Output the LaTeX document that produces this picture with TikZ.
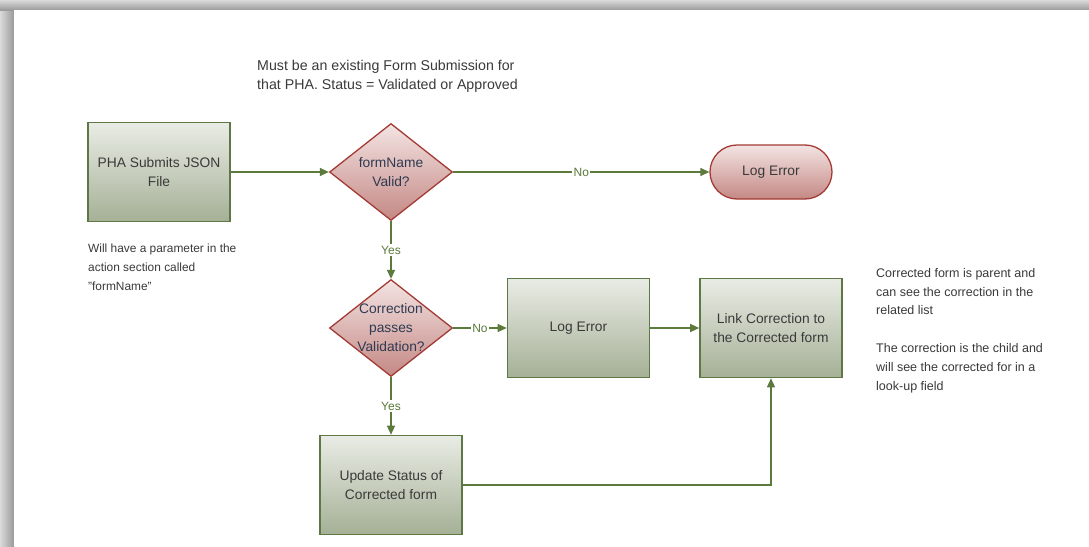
\documentclass[tikz,border=0pt]{standalone}
\usepackage{fontspec}
\setmainfont{Liberation Sans}
\usetikzlibrary{shapes.geometric,arrows.meta,shadings}
\definecolor{boxtop}{HTML}{E9ECE5}
\definecolor{boxbot}{HTML}{A5B096}
\definecolor{boxline}{HTML}{5E7744}
\definecolor{dtop}{HTML}{F3E4E3}
\definecolor{dbot}{HTML}{C48884}
\definecolor{dline}{HTML}{A33B34}
\definecolor{arrcol}{HTML}{5B7A3C}
\definecolor{txt}{HTML}{3A3A3A}
\definecolor{dtxt}{HTML}{2F3A52}
\definecolor{shadeA}{HTML}{DADADA}
\definecolor{shadeB}{HTML}{9A9A9A}
\tikzset{
  procbox/.style={rectangle, draw=boxline, line width=1.6pt, top color=boxtop, bottom color=boxbot,
    minimum width=142pt, minimum height=99pt, align=center, text=txt,
    font=\fontsize{13.8}{19}\selectfont},
  decision/.style={diamond, draw=dline, line width=1.3pt, top color=dtop, bottom color=dbot,
    minimum width=123pt, minimum height=97pt, inner sep=0pt},
  dtext/.style={align=center, text=dtxt, font=\fontsize{13.8}{19}\selectfont, inner sep=0pt},
  termin/.style={rectangle, rounded corners=27pt, draw=dline, line width=1.3pt, top color=dtop, bottom color=dbot,
    minimum width=122pt, minimum height=54pt, text=txt, font=\fontsize{13.8}{19}\selectfont},
  note/.style={align=left, text=txt, font=\fontsize{12.5}{18.8}\selectfont, inner sep=0pt, anchor=north west},
  arr/.style={draw=arrcol, line width=1.3pt, -{Triangle[length=9pt,width=8pt]}},
  lbl/.style={fill=white, text=arrcol, font=\fontsize{12}{14}\selectfont, inner sep=1.5pt}
}
\begin{document}
\begin{tikzpicture}[x=1pt,y=-1pt]
\useasboundingbox (0,0) rectangle (1089,546);
% page shadow frame
\shade[left color=shadeA, right color=shadeB] (0,0) rectangle (14,546);
\shade[top color=shadeA, bottom color=shadeB] (0,0) rectangle (1089,10);
\fill[white] (14,10) rectangle (1089,546);

% nodes
\node[procbox] (b1) at (159,172) {PHA Submits\ JSON\\File};
\node[decision] (d1) at (391,172) {};
\node[dtext] (d1t) at (391,172) {formName\\Valid?};
\node[termin] (t1) at (771,172) {Log Error};
\node[decision] (d2) at (391,328) {};
\node[dtext] (d2t) at (391,328) {Correction\\passes\\Validation?};
\node[procbox] (b2) at (578.5,328) {Log Error};
\node[procbox] (b3) at (771,328) {Link Correction to\\the Corrected form};
\node[procbox] (b4) at (391,485) {Update Status of\\Corrected form};

% notes
\node[note, font=\fontsize{14.2}{19}\selectfont] (n1) at (257,60) {Must be an existing Form Submission for\\that PHA. Status = Validated or Approved};
\node[note, font=\fontsize{11.9}{18.6}\selectfont] (n2) at (88,244) {Will have a parameter in the\\action section called\\"formName"};
\node[note] (n3) at (876,268) {Corrected form is parent and\\can see the correction in the\\related list\\[18.8pt]The correction is the child and\\will see the corrected for in a\\look-up field};

% connectors
\draw[arr] (b1.east) -- (d1.west);
\draw[arr] (d1.east) -- node[lbl] (l1) {No} (t1.west);
\draw[arr] (d1.south) -- node[lbl] (l2) {Yes} (d2.north);
\draw[arr] (d2.east) -- node[lbl] (l3) {No} (b2.west);
\draw[arr] (b2.east) -- (b3.west);
\draw[arr] (d2.south) -- node[lbl] (l4) {Yes} (b4.north);
\draw[arr] (b4.east) -| (b3.south);
\end{tikzpicture}
\end{document}
